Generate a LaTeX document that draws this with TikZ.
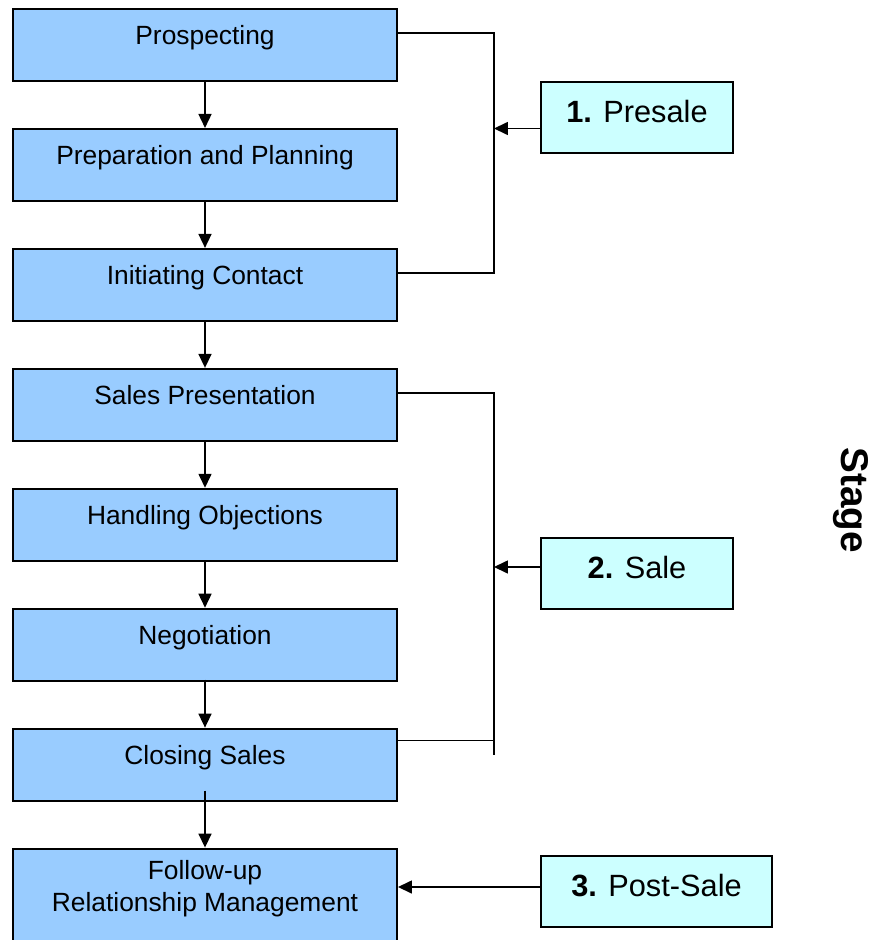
\documentclass[tikz,border=0pt]{standalone}
\usepackage{fontspec}
\setmainfont{Liberation Sans}
\usetikzlibrary{positioning,arrows.meta}
\definecolor{boxblue}{HTML}{99CCFF}
\definecolor{stagecyan}{HTML}{CCFFFF}

\begin{document}
\begin{tikzpicture}[
    stepbox/.style={draw, line width=1.1pt, fill=boxblue, minimum width=7.68cm, minimum height=1.44cm,
        text height=.35cm, text depth=.35cm, font=\fontsize{15}{18}\selectfont},
    stagebox/.style={draw, line width=1.1pt, fill=stagecyan, minimum height=1.42cm,
        text height=.45cm, text depth=.25cm, font=\fontsize{17.5}{21}\selectfont},
    arr/.style={-{Triangle[length=.28cm, width=.26cm]}, line width=.9pt},
    node distance=.92cm]
    \useasboundingbox (0,0) rectangle (17.78,-18.8);

    \node[stepbox] (prosp) at (4.1,-.9) {Prospecting};
    \node[stepbox, below=of prosp] (prep) {Preparation and Planning};
    \node[stepbox, below=of prep] (contact) {Initiating Contact};
    \node[stepbox, below=of contact] (pres) {Sales Presentation};
    \node[stepbox, below=of pres] (objec) {Handling Objections};
    \node[stepbox, below=of objec] (nego) {Negotiation};
    \node[stepbox, below=of nego] (close) {Closing Sales};
    \node[stepbox, below=of close, minimum height=2.52cm] (follow) {\begin{tabular}[b]{@{}c@{}}Follow-up\\Relationship Management\end{tabular}};

    \draw[arr] (prosp) -- (prep);
    \draw[arr] (prep) -- (contact);
    \draw[arr] (contact) -- (pres);
    \draw[arr] (pres) -- (objec);
    \draw[arr] (objec) -- (nego);
    \draw[arr] ([yshift=.04cm]nego.south) -- (close);
    \draw[arr] ([yshift=.22cm]close.south) -- (follow);

    \path (prosp.east) -- ++(1.92,0) coordinate (brk);

    \node[stagebox, minimum width=3.84cm] (presale) at (12.74,-2.35) {\textbf{1.} Presale};
    \draw[line width=.9pt] ([yshift=.24cm]prosp.east) -| ([yshift=.24cm]contact.east -| brk) -- ([yshift=.24cm]contact.east);
    \draw[arr] ([yshift=-.22cm]presale.west) -- ([yshift=-.22cm]presale.west -| brk);

    \node[stagebox, minimum width=3.84cm] (sale) at (12.74,-11.47) {\textbf{2.} Sale};
    \draw[line width=.9pt] ([yshift=.24cm]pres.east) -| ([yshift=.2cm]close.east -| brk);
    \draw[line width=.9pt] ([yshift=.48cm]close.east) -- ([yshift=.48cm]close.east -| brk);
    \draw[arr] ([yshift=.13cm]sale.west) -- ([yshift=.13cm]sale.west -| brk);

    \node[stagebox, minimum width=4.62cm] (postsale) at (13.13,-17.83) {\textbf{3.} Post-Sale};
    \draw[arr] ([yshift=.09cm]postsale.west) -- ([yshift=.09cm]postsale.west -| follow.east);

    \node[rotate=-90, font=\fontsize{22}{26}\selectfont\bfseries] (stage) at (17.02,-10) {Stage};

\end{tikzpicture}
\end{document}
